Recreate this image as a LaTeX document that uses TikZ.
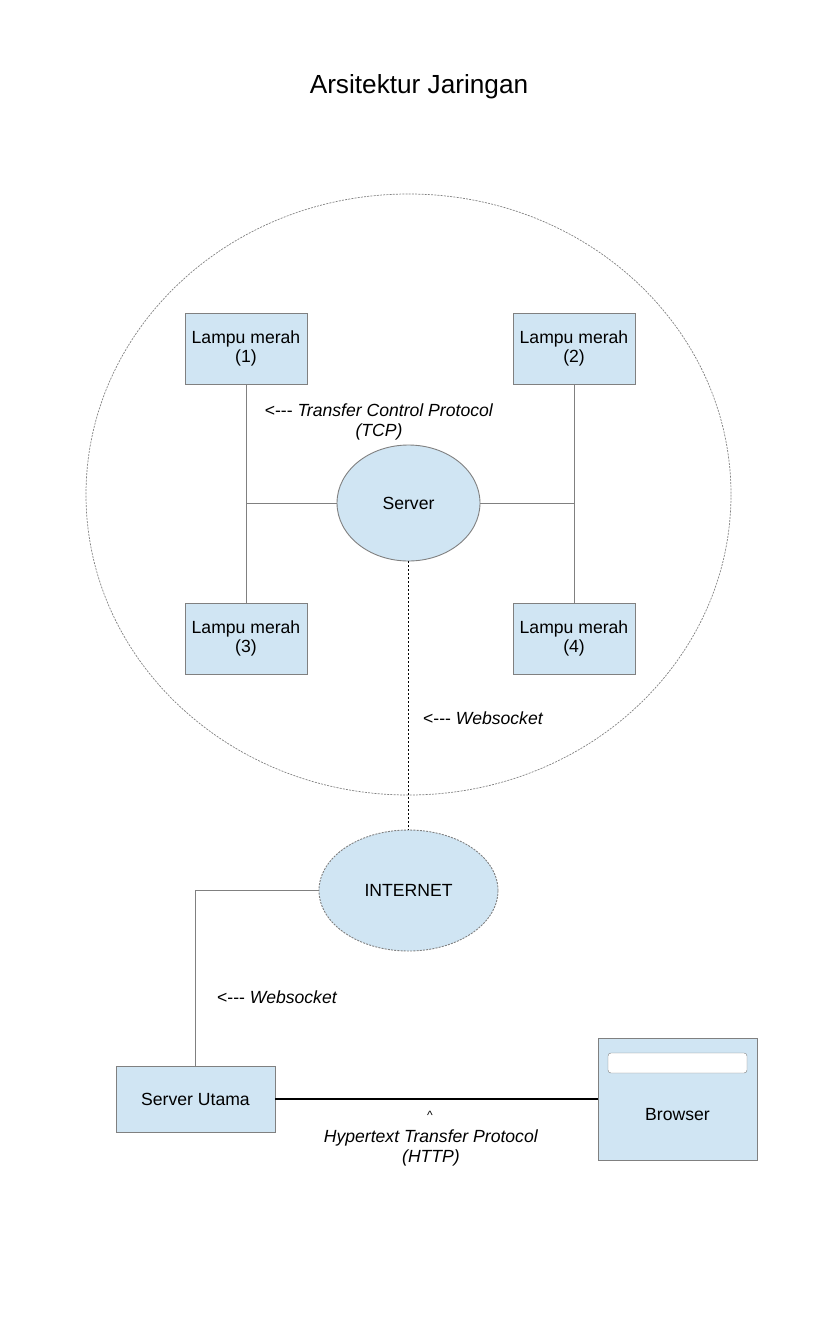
\documentclass[tikz,border=0pt]{standalone}
\usepackage{fontspec}
\setmainfont{Liberation Sans}
\usetikzlibrary{shapes.geometric}
\definecolor{boxfill}{HTML}{D0E5F3}
\definecolor{boxline}{HTML}{808080}
\newcommand{\larr}{<-{}-{}-}
\tikzset{
  lampbox/.style={draw=boxline, fill=boxfill, line width=0.9pt, minimum width=122pt, minimum height=71pt, inner sep=0pt, align=center, font=\fontsize{17.6}{19.5}\selectfont},
  ellnode/.style={ellipse, draw=boxline, fill=boxfill, line width=0.9pt, inner sep=0pt, font=\fontsize{17.6}{19.5}\selectfont},
  link/.style={draw=boxline, line width=1pt},
  lbl/.style={font=\fontsize{17.6}{19.5}\selectfont, align=center, inner sep=0pt},
}
\begin{document}
\begin{tikzpicture}[x=1pt,y=-1pt]
\useasboundingbox (0,0) rectangle (816,1344);
\node[font=\fontsize{26.2}{28}\selectfont, inner sep=0pt] (title) at (419,87) {Arsitektur Jaringan};
% big zone
\draw[draw=gray, dash pattern=on 2pt off 1.2pt, line width=0.7pt] (408.5,494.5) ellipse [x radius=322.5, y radius=300.5];
\node[lampbox] (l1) at (246,348.5) {Lampu merah\\(1)};
\node[lampbox] (l2) at (574,348.5) {Lampu merah\\(2)};
\node[lampbox] (l3) at (246,638.5) {Lampu merah\\(3)};
\node[lampbox] (l4) at (574,638.5) {Lampu merah\\(4)};
\node[ellnode, minimum width=143pt, minimum height=116pt] (srv) at (408.5,503) {Server};
\coordinate (jl) at (246,503);
\coordinate (jr) at (574,503);
\draw[link] (l1.south) -- (l3.north);
\draw[link] (l2.south) -- (l4.north);
\draw[link] (jl) -- (srv.west);
\draw[link] (srv.east) -- (jr);
\node[lbl] (tcp) at (379,422) {\larr\ \textit{Transfer Control Protocol}\\\textit{(TCP)}};
\node[ellnode, draw=gray, dash pattern=on 2pt off 1.2pt, minimum width=179pt, minimum height=121pt] (inet) at (408.5,890.5) {INTERNET};
\draw[black, line width=1pt, dash pattern=on 2pt off 2pt] (srv.south) -- (inet.north);
\node[lbl, anchor=west] (ws1) at (423,718) {\larr\ \textit{Websocket}};
\node[lampbox, minimum width=159pt, minimum height=66pt] (su) at (195.5,1099) {Server Utama};
\draw[link] (inet.west) -| (su.north);
\node[lbl, anchor=west] (ws2) at (217,997) {\larr\ \textit{Websocket}};
\node[lampbox, minimum width=159pt, minimum height=122pt] (br) at (677.5,1099) {};
\node[draw=boxline, fill=white, rounded corners=3pt, minimum width=139pt, minimum height=20pt, inner sep=0pt] (bar) at (677.5,1063) {};
\node[lbl] (brt) at (677.5,1115) {Browser};
\draw[black, line width=1.1pt] (su.east) -- (br.west);
\node[lbl, font=\fontsize{12}{14}\selectfont] (caret) at (430,1115) {\textasciicircum};
\node[lbl] (http) at (431,1148) {\textit{Hypertext Transfer Protocol}\\\textit{(HTTP)}};
\end{tikzpicture}
\end{document}
